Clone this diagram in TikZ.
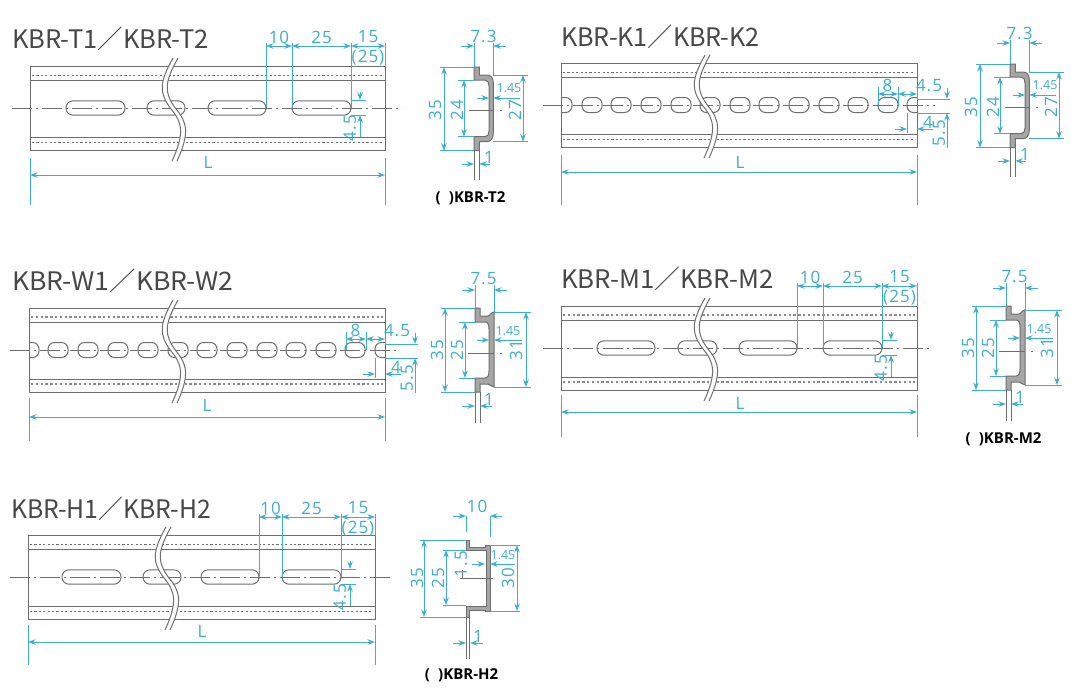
\documentclass[tikz,border=0pt]{standalone}
\usepackage{fontspec}
\usetikzlibrary{arrows.meta}
\setmainfont{Open Sans}
\newfontfamily\titlefont{Noto Sans CJK JP}
\newfontfamily\dimfont[LetterSpace=6]{Open Sans}
\definecolor{dimc}{HTML}{3FAECB}
\definecolor{railc}{HTML}{6E6E6E}
\definecolor{webc}{HTML}{A6A6A6}
\newcounter{lab}
\tikzset{
  railline/.style={draw=railc,line width=1pt},
  thindots/.style={draw=railc,line width=1pt,dash pattern=on 2.2pt off 2.2pt},
  heavydots/.style={draw=railc!80,line width=2.2pt,dash pattern=on 2.4pt off 2.4pt},
  centre/.style={draw=railc,line width=0.9pt,dash pattern=on 20pt off 4pt on 2pt off 4pt},
  dimline/.style={draw=dimc,line width=1pt},
  dimboth/.style={dimline,{Stealth[length=7.5pt,width=5.5pt]}-{Stealth[length=7.5pt,width=5.5pt]}},
  dimto/.style={dimline,-{Stealth[length=7.5pt,width=5.5pt]}},
  dimtext/.style={text=dimc,font=\dimfont\fontsize{17}{17}\selectfont,inner sep=0pt},
  smalltext/.style={text=dimc,font=\fontsize{12.5}{13}\selectfont,inner sep=0pt},
  titletext/.style={text=black!72,font=\titlefont\fontsize{25.5}{26}\selectfont,inner sep=0pt,anchor=west},
  modeltext/.style={text=black,font=\bfseries\fontsize{15}{15}\selectfont,inner sep=0pt},
  webshape/.style={fill=webc,draw=railc,line width=1pt},
}
\newcommand\Dt[3]{\stepcounter{lab}\node[dimtext] (lab\thelab) at ({#1},{#2}) {#3};}
\newcommand\Dr[3]{\stepcounter{lab}\node[dimtext,rotate=90] (lab\thelab) at ({#1},{#2}) {#3};}
\newcommand\Sm[3]{\stepcounter{lab}\node[smalltext] (lab\thelab) at ({#1},{#2}) {#3};}
\newcommand\Ttl[4]{\stepcounter{lab}\node[titletext] (lab\thelab) at ({#1},{#2}) {\scalebox{#3}[1]{#4}};}
\newcommand\Mdl[3]{\stepcounter{lab}\node[modeltext] (lab\thelab) at ({#1},{#2}) {#3};}
% #1 x0, #2 x1, #3 centre y, #4 dot style, #5 centreline start, #6 centreline end
\newcommand\RailBody[6]{
  \draw[railline] (#1,#3-41.5) rectangle (#2,#3+42);
  \draw[railline] (#1,#3-28) -- (#2,#3-28);
  \draw[railline] (#1,#3+29) -- (#2,#3+29);
  \draw[#4] (#1+2,#3-33) -- (#2-2,#3-33);
  \draw[#4] (#1+2,#3+34) -- (#2-2,#3+34);
  \draw[centre] (#5,#3) -- (#6,#3);
}
\newcommand\Slot[3]{\draw[railline,rounded corners=7pt] (#1,#2-7.2) rectangle (#3,#2+7.2);}
% #1 x, #2 cy
\newcommand\Break[2]{
  \fill[white] (#1+3,#2-50) .. controls (#1-11,#2-25) and (#1-11,#2-15) .. (#1+1,#2+1)
     .. controls (#1+12,#2+14) and (#1+15,#2+25) .. (#1+2,#2+53)
     -- (#1+7,#2+53) .. controls (#1+20,#2+25) and (#1+17,#2+14) .. (#1+6,#2+1)
     .. controls (#1-6,#2-15) and (#1-6,#2-25) .. (#1+8,#2-50) -- cycle;
  \draw[railline] (#1+3,#2-50) .. controls (#1-11,#2-25) and (#1-11,#2-15) .. (#1+1,#2+1)
     .. controls (#1+12,#2+14) and (#1+15,#2+25) .. (#1+2,#2+53);
  \draw[railline] (#1+8,#2-50) .. controls (#1-6,#2-25) and (#1-6,#2-15) .. (#1+6,#2+1)
     .. controls (#1+17,#2+14) and (#1+20,#2+25) .. (#1+7,#2+53);
}
% #1 x0 #2 x1 #3 y #4 ext top #5 ext bottom #6 L-x #7 L-y
\newcommand\LDim[7]{
  \draw[dimline] (#1,#4) -- (#1,#5) (#2,#4) -- (#2,#5);
  \draw[dimboth] (#1,#3) -- (#2,#3);
  \Dt{#6}{#7}{L}
}
% a b c d cy yd
\newcommand\PitchDims[6]{
  \draw[dimline] (#1,#6-3) -- (#1,#5) (#2,#6-3) -- (#2,#5) (#3,#6-3) -- (#3,#5);
  \draw[dimline] (#4,#6-3) -- (#4,#5-41);
  \draw[dimboth] (#1,#6) -- (#2,#6);
  \draw[dimboth] (#2,#6) -- (#3,#6);
  \draw[dimboth] (#3,#6) -- (#4,#6);
  \Dt{(#1+#2)/2}{#6-9}{10}
  \Dt{(#2+#3)/2}{#6-9}{25}
  \Dt{(#3+#4)/2}{#6-9}{15}
  \Dt{(#3+#4)/2}{#6+12}{(25)}
  \draw[dimline] (#3,#5-8) -- (#3+15,#5-8) (#3,#5+7) -- (#3+15,#5+7);
  \draw[dimto] (#3+9,#5-16) -- (#3+9,#5-8);
  \draw[dimto] (#3+9,#5+29) -- (#3+9,#5+7);
  \Dr{#3-1}{#5+20}{4.5}
}
% hole-edge dims, cy=105 in local coordinates of the K panel
\newcommand\HoleDims{
  \draw[dimline] (878,87) -- (878,105) (898,87) -- (898,105) (917,87) -- (917,99);
  \draw[dimboth] (878,94) -- (898,94);
  \draw[dimboth] (898,94) -- (917,94);
  \Dt{887.5}{85}{8}
  \Dt{929}{86}{4.5}
  \draw[dimline] (917,99) -- (950,99) (917,113) -- (950,113);
  \draw[dimto] (947,88) -- (947,99);
  \draw[dimto] (947,148) -- (947,113);
  \Dr{939}{133}{5.5}
  \draw[dimline] (907,113) -- (907,133);
  \draw[dimto] (895,129) -- (907,129);
  \draw[dimto] (933,129) -- (917,129);
  \Dt{928}{122}{4}
}
% T type profile in T panel coordinates
\newcommand\ProfileT{
  \draw[railline] (474,150) -- (474,180) (479.3,150) -- (479.3,180);
  \draw[webshape] (474,67) -- (479.3,67) -- (479.3,75) -- (487,75)
     .. controls (491,75) and (493.3,78) .. (493.3,83) -- (493.3,133)
     .. controls (493.3,138) and (491,141.7) .. (487,141.7) -- (479.3,141.7) -- (479.3,150.7) -- (474,150.7)
     -- (474,136.7) -- (485,136.7) .. controls (488,136.7) and (489,134) .. (489,131) -- (489,86)
     .. controls (489,83) and (488,80) .. (485,80) -- (474,80) -- cycle;
  \draw[railline] (469,110.5) -- (493,110.5) (500,110.5) -- (502,110.5);
  \draw[dimline] (474,43) -- (474,67) (493.3,43) -- (493.3,75);
  \draw[dimto] (461,46) -- (474,46);
  \draw[dimto] (506,46) -- (493.3,46);
  \Dt{483.5}{36}{7.3}
  \draw[dimline] (440,67) -- (474,67) (440,150.7) -- (474,150.7);
  \draw[dimboth] (444,67) -- (444,150.7);
  \Dr{435}{110}{35}
  \draw[dimline] (458,80) -- (474,80) (458,136.7) -- (474,136.7);
  \draw[dimboth] (464,80) -- (464,136.7);
  \Dr{457}{110}{24}
  \draw[dimline] (493,75) -- (528,75) (493,141.7) -- (528,141.7);
  \draw[dimboth] (523,75) -- (523,141.7);
  \Dr{515}{110}{27}
  \Sm{509}{88}{1.45}
  \draw[dimto] (477,98) -- (489,98);
  \draw[dimto] (520,98) -- (493.3,98);
  \draw[dimto] (462,164) -- (474,164);
  \draw[dimto] (490,164) -- (479.3,164);
  \Dt{489}{157}{1}
}
% W type profile in W panel coordinates
\newcommand\ProfileW{
  \draw[railline] (475,392) -- (475,423) (480,392) -- (480,423);
  \draw[webshape] (475,308) -- (480,308) -- (480,316) -- (488,316)
     .. controls (490,316) and (491,312) .. (494,312) -- (494,387)
     .. controls (491,387) and (490,384) .. (488,384) -- (480,384) -- (480,392) -- (475,392)
     -- (475,378) -- (485,378) .. controls (488,378) and (489,375) .. (489,371) -- (489,329)
     .. controls (489,325) and (488,322) .. (485,322) -- (475,322) -- cycle;
  \draw[railline] (468,353) -- (494,353) (500,353) -- (502,353);
  \draw[dimline] (475,285) -- (475,308) (494,285) -- (494,312);
  \draw[dimto] (462,290) -- (475,290);
  \draw[dimto] (507,290) -- (494,290);
  \Dt{483.5}{279}{7.5}
  \draw[dimline] (441,308) -- (475,308) (441,392) -- (475,392);
  \draw[dimboth] (445,308) -- (445,392);
  \Dr{437}{350}{35}
  \draw[dimline] (459,322) -- (475,322) (459,378) -- (475,378);
  \draw[dimboth] (465,322) -- (465,378);
  \Dr{457}{350}{25}
  \draw[dimline] (494,312) -- (531,312) (494,387) -- (531,387);
  \draw[dimboth] (526,312) -- (526,387);
  \Dr{516}{350}{31}
  \Sm{508}{331}{1.45}
  \draw[dimto] (477,340) -- (489,340);
  \draw[dimto] (522,340) -- (494,340);
  \draw[dimto] (462,406) -- (475,406);
  \draw[dimto] (492,406) -- (480,406);
  \Dt{489}{399}{1}
}
\begin{document}
\begin{tikzpicture}[x=1pt,y=-1pt]
\useasboundingbox (0,0) rectangle (1071,697);
\fill[white] (0,0) rectangle (1071,697);
% ---------- T
\Ttl{12}{39}{1}{KBR-T1／KBR-T2}
\RailBody{30}{385}{108}{thindots}{12}{402}
\Slot{66}{108}{125}\Slot{147}{108}{185}\Slot{208}{108}{266}\Slot{292}{108}{351}
\Break{170}{108}
\PitchDims{266}{292}{351}{385}{108}{46}
\LDim{30}{385}{175}{158}{205}{208}{162}
\ProfileT
\Mdl{470.5}{198}{(\hspace{0.55em})KBR-T2}
% ---------- K
\Ttl{561}{37}{0.985}{KBR-K1／KBR-K2}
\RailBody{561}{917}{105}{thindots}{543}{935}
\begin{scope}
  \clip (561,60) rectangle (917,150);
  \foreach \c in {562,592,621,651,681,710,740,769,799,829,858,888,917}
    {\draw[railline,rounded corners=6.5pt] (\c-10,97.5) rectangle (\c+10,112.5);}
\end{scope}
\Break{702}{105}
\HoleDims
\LDim{561}{917}{172}{155}{205}{740}{162}
\begin{scope}[shift={(536,-3)}]
  \ProfileT
\end{scope}
% ---------- W
\Ttl{12}{281}{1.04}{KBR-W1／KBR-W2}
\RailBody{29}{385}{350}{heavydots}{10}{399}
\begin{scope}
  \clip (29,300) rectangle (385,395);
  \foreach \c in {29,58,88,118,148,178,207,237,267,296,326,355,385}
    {\draw[railline,rounded corners=6.5pt] (\c-10,342.5) rectangle (\c+10,357.5);}
\end{scope}
\Break{170}{350}
\begin{scope}[shift={(-532,245)}]
  \HoleDims
\end{scope}
\LDim{29}{385}{417}{398}{441}{207}{405}
\ProfileW
% ---------- M
\Ttl{561}{279}{1.01}{KBR-M1／KBR-M2}
\RailBody{561}{917}{348}{heavydots}{543}{933}
\Slot{597}{348}{655}\Slot{678}{348}{717}\Slot{739}{348}{797}\Slot{823}{348}{882}
\Break{702}{348}
\PitchDims{797}{823}{882}{917}{348}{286}
\LDim{561}{917}{412}{395}{437}{740}{403}
\begin{scope}[shift={(531,-2)}]
  \ProfileW
\end{scope}
\Mdl{1003.5}{439}{(\hspace{0.55em})KBR-M2}
% ---------- H
\Ttl{11}{509}{0.97}{KBR-H1／KBR-H2}
\RailBody{28}{375}{577}{thindots}{10}{392}
\Slot{62}{577}{121}\Slot{143}{577}{181}\Slot{201}{577}{259}\Slot{282}{577}{341}
\Break{163}{577}
\PitchDims{259}{282}{341}{375}{577}{517}
\LDim{28}{375}{642}{625}{665}{202}{631}
% H profile
\draw[railline] (466,617) -- (466,659) (469.5,617) -- (469.5,659);
\draw[webshape] (466,540) -- (469.5,540) -- (469.5,547) -- (485,547) -- (485,545) -- (490,545) -- (490,611)
   -- (485,611) -- (485,610.5) -- (469.5,610.5) -- (469.5,617) -- (466,617) -- (466,606) -- (486,606) -- (486,550) -- (466,550) -- cycle;
\draw[railline] (460,578) -- (493,578) (462.5,570) -- (462.5,578);
\draw[dimline] (466,516) -- (466,532) (490,516) -- (490,537);
\draw[dimto] (453,516) -- (466,516);
\draw[dimto] (502,516) -- (490,516);
\Dt{477}{506}{10}
\draw[dimline] (420,540) -- (466,540) (420,617) -- (466,617);
\draw[dimboth] (424,540) -- (424,617);
\Dr{417}{578}{35}
\draw[dimline] (443,550) -- (466,550) (443,605) -- (466,605);
\draw[dimboth] (446,550) -- (446,605);
\Dr{438}{578}{25}
\Dr{461}{564}{1.5}
\Sm{503}{555}{1.45}
\draw[dimto] (472,564) -- (485,564);
\draw[dimto] (515,564) -- (490,564);
\draw[dimline] (490,545) -- (520,545) (490,611) -- (520,611);
\draw[dimboth] (517,545) -- (517,611);
\Dr{508}{578}{30}
\draw[dimto] (453,643) -- (466,643);
\draw[dimto] (483,643) -- (470,643);
\Dt{478}{636}{1}
\Mdl{461.5}{675}{(\hspace{0.55em})KBR-H2}
\end{tikzpicture}
\end{document}
